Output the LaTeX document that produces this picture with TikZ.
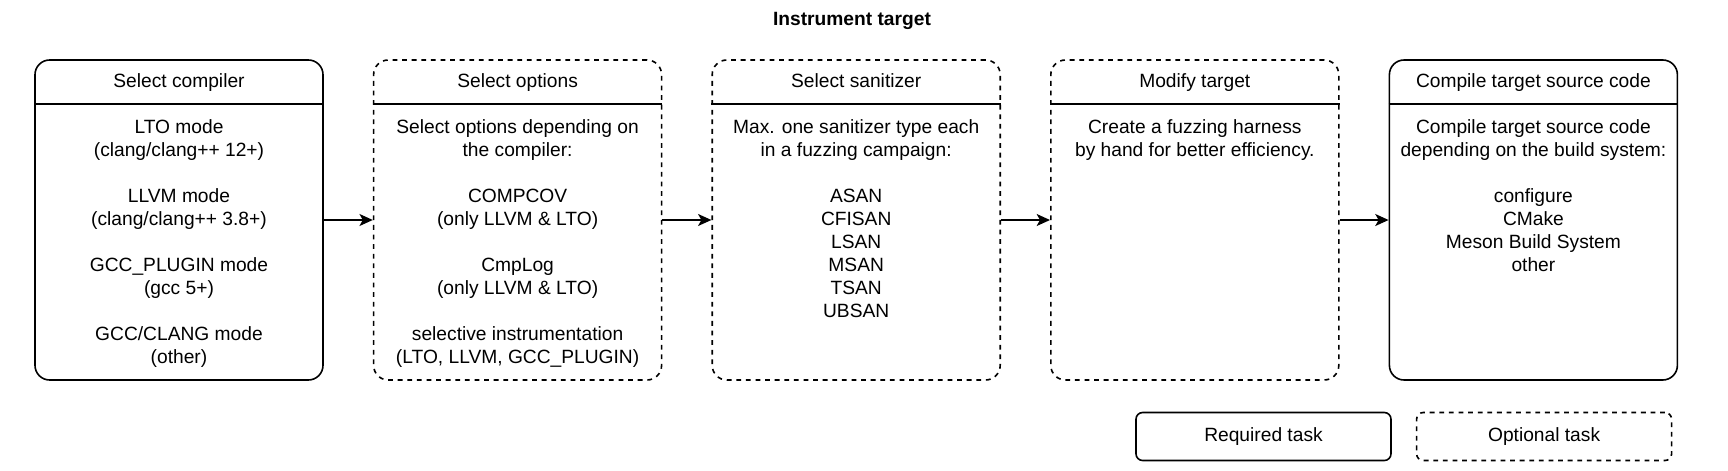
\documentclass[tikz,border=0pt]{standalone}
\usepackage{fontspec}
\setmainfont{Liberation Sans}
\usepackage{tikz}
\usetikzlibrary{arrows.meta}
\usetikzlibrary{calc}
\usetikzlibrary{positioning}

\newcommand{\txtsize}{\fontsize{14.4}{17.25}\selectfont}

\begin{document}
\begin{tikzpicture}[x=0.75pt,y=-0.75pt,
    task/.style={draw,line width=1.2pt,rounded corners=11pt,minimum width=216pt,minimum height=240pt,inner sep=0pt},
    optional/.style={dash pattern=on 3.6pt off 3.6pt},
    legend/.style={draw,line width=1.2pt,rounded corners=5pt,minimum width=191.25pt,minimum height=36pt,font=\txtsize},
    head/.style={anchor=base,font=\txtsize},
    body/.style={anchor=north,inner sep=0pt,align=center,font=\txtsize,execute at begin node={\rule{0pt}{11pt}}}]

  \useasboundingbox (0,0) rectangle (1728,471);

  \node [anchor=base,font=\txtsize\bfseries] (title) at (852,25) {Instrument target};

  \node [task] (compiler) at (179,220) {};
  \node [task,optional,right=36.75pt of compiler] (options) {};
  \node [task,optional,right=36.75pt of options] (sanitizer) {};
  \node [task,optional,right=36.75pt of sanitizer] (modify) {};
  \node [task,right=36.75pt of modify] (build) {};

  \path [draw,line width=1.2pt]
    ($(compiler.north west)+(0,45)$)  -- ($(compiler.north east)+(0,45)$)
    ($(options.north west)+(0,45)$)   -- ($(options.north east)+(0,45)$)
    ($(sanitizer.north west)+(0,45)$) -- ($(sanitizer.north east)+(0,45)$)
    ($(modify.north west)+(0,45)$)    -- ($(modify.north east)+(0,45)$)
    ($(build.north west)+(0,45)$)     -- ($(build.north east)+(0,45)$);

  \node [head] (compiler_head)  at ($(compiler.north)+(0,28)$)  {Select compiler};
  \node [head] (options_head)   at ($(options.north)+(0,28)$)   {Select options};
  \node [head] (sanitizer_head) at ($(sanitizer.north)+(0,28)$) {Select sanitizer};
  \node [head] (modify_head)    at ($(modify.north)+(0,28)$)    {Modify target};
  \node [head] (build_head)     at ($(build.north)+(0,28)$)     {Compile target source code};

  \node [body] (compiler_body) at ($(compiler.north)+(0,60.33)$) {
    LTO mode\\(clang/clang++ 12+)\\[17.25pt]
    LLVM mode\\(clang/clang++ 3.8+)\\[17.25pt]
    GCC\_PLUGIN mode\\(gcc 5+)\\[17.25pt]
    GCC/CLANG mode\\(other)};
  \node [body] (options_body) at ($(options.north)+(0,60.33)$) {
    Select options depending on\\the compiler:\\[17.25pt]
    COMPCOV\\(only LLVM \& LTO)\\[17.25pt]
    CmpLog\\(only LLVM \& LTO)\\[17.25pt]
    selective instrumentation\\(LTO, LLVM, GCC\_PLUGIN)};
  \node [body] (sanitizer_body) at ($(sanitizer.north)+(0,60.33)$) {
    Max. one sanitizer type each\\in a fuzzing campaign:\\[17.25pt]
    ASAN\\CFISAN\\LSAN\\MSAN\\TSAN\\UBSAN};
  \node [body] (modify_body) at ($(modify.north)+(0,60.33)$) {
    Create a fuzzing harness\\by hand for better efficiency.};
  \node [body] (build_body) at ($(build.north)+(0,60.33)$) {
    Compile target source code\\depending on the build system:\\[17.25pt]
    configure\\CMake\\Meson Build System\\other};

  \path [draw,line width=1.2pt,->,>={Stealth[length=10pt,width=9pt,inset=2.5pt]}]
    (compiler)  edge (options)
    (options)   edge (sanitizer)
    (sanitizer) edge (modify)
    (modify)    edge (build);

  \node [legend] (required) at (1263.5,436.5) {Required task};
  \node [legend,optional,right=18pt of required] (optional_key) {Optional task};

\end{tikzpicture}
\end{document}
